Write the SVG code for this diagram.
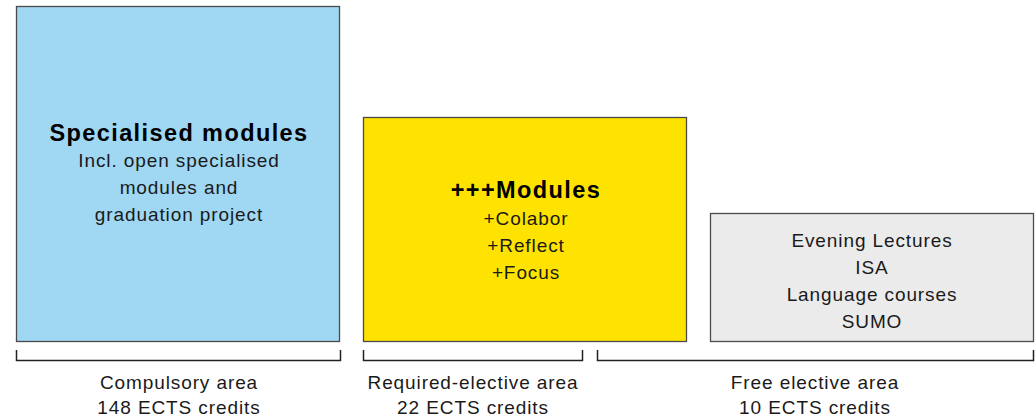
<svg xmlns="http://www.w3.org/2000/svg" width="1036" height="420" viewBox="0 0 1036 420">
<style>
.box{stroke:#4a4a4a;stroke-width:1.3}
.t{font-family:"Liberation Sans",Arial,sans-serif;font-size:19px;fill:#1a1a1a;text-anchor:middle;letter-spacing:0.9px}
.b{font-family:"Liberation Sans",Arial,sans-serif;font-size:23.5px;font-weight:bold;fill:#000;text-anchor:middle;letter-spacing:1.4px}
.br{fill:none;stroke:#222;stroke-width:1.5}
</style>
<rect width="1036" height="420" fill="#fff"/>
<g id="compulsory">
<rect class="box" x="16.5" y="6.5" width="323" height="335" fill="#a0d7f3"/>
<text class="b" x="179" y="141">Specialised modules</text>
<text class="t" x="179" y="167">Incl. open specialised</text>
<text class="t" x="179" y="194">modules and</text>
<text class="t" x="179" y="221">graduation project</text>
</g>
<g id="required-elective">
<rect class="box" x="363.5" y="117.5" width="323" height="224" fill="#ffe300"/>
<text class="b" x="526" y="198">+++Modules</text>
<text class="t" x="526" y="225">+Colabor</text>
<text class="t" x="526" y="252">+Reflect</text>
<text class="t" x="526" y="279">+Focus</text>
</g>
<g id="free-elective">
<rect class="box" x="710.5" y="213.5" width="323" height="128" fill="#ebebeb"/>
<text class="t" x="872" y="247">Evening Lectures</text>
<text class="t" x="872" y="274">ISA</text>
<text class="t" x="872" y="301">Language courses</text>
<text class="t" x="872" y="328">SUMO</text>
</g>
<g id="connectors">
<path class="br" d="M16.5 350V360.5H340.5V350"/>
<path class="br" d="M363.5 350V360.5H582.5V350"/>
<path class="br" d="M597.5 350V360.5H1033.5V350"/>
</g>
<g id="labels">
<text class="t" x="179" y="389">Compulsory area</text>
<text class="t" x="179" y="414">148 ECTS credits</text>
<text class="t" x="473" y="389">Required-elective area</text>
<text class="t" x="473" y="414">22 ECTS credits</text>
<text class="t" x="815" y="389">Free elective area</text>
<text class="t" x="815" y="414">10 ECTS credits</text>
</g>
</svg>
